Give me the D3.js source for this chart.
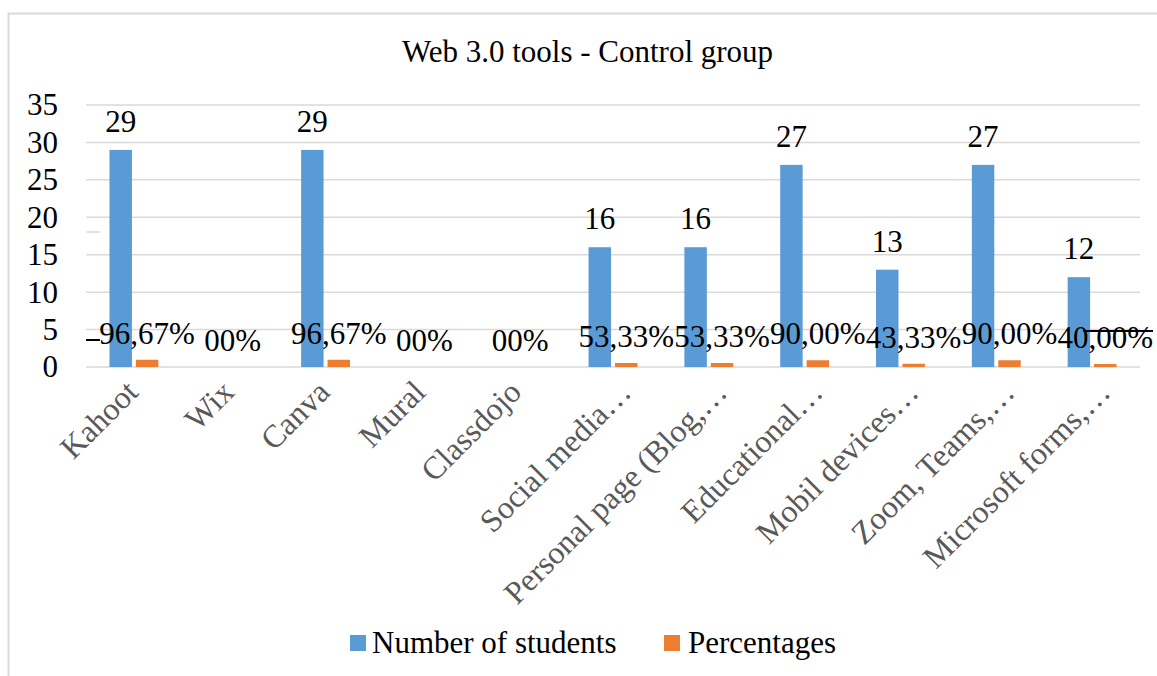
<!DOCTYPE html>
<html><head><meta charset="utf-8">
<script src="https://cdn.jsdelivr.net/npm/d3@7"></script>
<style>
html,body{margin:0;padding:0;background:#fff;}
text{font-family:"Liberation Serif","Times New Roman",serif;}
</style></head>
<body>
<svg id="chart" width="1157" height="676"></svg>
<script>
const title = "Web 3.0 tools - Control group";
const categories = ["Kahoot","Wix","Canva","Mural","Classdojo","Social media…","Personal page (Blog,…","Educational…","Mobil devices…","Zoom, Teams,…","Microsoft forms,…"];
const students = [29,0,29,0,0,16,16,27,13,27,12];
const percentages = [0.9667,0,0.9667,0,0,0.5333,0.5333,0.9,0.4333,0.9,0.4];
const percentLabels = ["96,67%","00%","96,67%","00%","00%","53,33%","53,33%","90,00%","43,33%","90,00%","40,00%"];
const seriesNames = ["Number of students","Percentages"];
const colors = ["#5b9bd5","#ed7d31"];
const yTicks = [0,5,10,15,20,25,30,35];

const svg = d3.select("#chart");
const plot = {left:86, right:1140, top:105, bottom:367};

// chart border
svg.append("rect").attr("x",8.5).attr("y",13.5).attr("width",1170).attr("height",700)
  .attr("fill","none").attr("stroke","#d9d9d9").attr("stroke-width",2);

const x0 = d3.scaleBand().domain(categories).range([plot.left, plot.right]).paddingInner(0).paddingOuter(0);
const step = x0.bandwidth();
const x1 = d3.scaleBand().domain(seriesNames).range([step*0.245, step*0.755]).paddingInner(0.15);
const y = d3.scaleLinear().domain([0,35]).range([plot.bottom, plot.top]);

// gridlines
svg.append("g").selectAll("line").data(yTicks).join("line")
  .attr("x1",plot.left).attr("x2",plot.right)
  .attr("y1",d=>y(d)).attr("y2",d=>y(d))
  .attr("stroke","#d9d9d9").attr("stroke-width",1.5);

// y axis labels
const yAxis = d3.axisLeft(y).tickValues(yTicks).tickSize(0).tickPadding(0);
const ya = svg.append("g").attr("transform",`translate(${plot.left-28},0)`).call(yAxis);
ya.select(".domain").remove();
ya.selectAll("text").attr("font-size",31).attr("fill","#000");

// title
svg.append("text").attr("x",587.5).attr("y",62).attr("text-anchor","middle")
  .attr("font-size",31).attr("fill","#000").text(title);

// bars
const groups = svg.append("g").selectAll("g").data(categories).join("g")
  .attr("transform",d=>`translate(${x0(d)},0)`);
groups.append("rect")
  .attr("x",x1(seriesNames[0])).attr("width",x1.bandwidth())
  .attr("y",(d,i)=>y(students[i])).attr("height",(d,i)=>y(0)-y(students[i]))
  .attr("fill",colors[0]);
groups.append("rect")
  .attr("x",x1(seriesNames[1])).attr("width",x1.bandwidth())
  .attr("y",(d,i)=>y(percentages[i])).attr("height",(d,i)=>y(0)-y(percentages[i]))
  .attr("fill",colors[1]);

// artefact line
svg.append("line").attr("x1",plot.left).attr("x2",plot.left+14).attr("y1",232).attr("y2",232)
  .attr("stroke","#d9d9d9").attr("stroke-width",1.5);

// value labels students
groups.filter((d,i)=>students[i]>0).append("text")
  .attr("x",x1(seriesNames[0])+x1.bandwidth()/2)
  .attr("y",d=>y(students[categories.indexOf(d)])-18)
  .attr("text-anchor","middle").attr("font-size",31).attr("fill","#000")
  .text(d=>students[categories.indexOf(d)]);

// percentage labels
groups.append("text")
  .attr("x",(d,i)=>percentages[i]>0 ? x1(seriesNames[1])+x1.bandwidth()/2 : step/2+3)
  .attr("y",(d,i)=>y(percentages[i])-16)
  .attr("text-anchor","middle").attr("font-size",31).attr("fill","#000")
  .text((d,i)=>percentLabels[i]);

svg.append("line").attr("x1",plot.left).attr("x2",plot.left+14).attr("y1",340).attr("y2",340)
  .attr("stroke","#000").attr("stroke-width",2);
svg.append("line").attr("x1",plot.right-57).attr("x2",plot.right+13).attr("y1",331).attr("y2",331)
  .attr("stroke","#000").attr("stroke-width",2);

// category labels
svg.append("g").selectAll("text").data(categories).join("text")
  .attr("transform",d=>`translate(${x0(d)+step/2+6+(d.endsWith("…")?14:0)},394) rotate(-45)`)
  .attr("text-anchor","end").attr("font-size",32).attr("fill","#595959")
  .text(d=>d);

// legend
const legend = svg.append("g");
const legendItems = [{x:350, tx:372},{x:664, tx:688}];
seriesNames.forEach((s,i)=>{
  legend.append("rect").attr("x",legendItems[i].x).attr("y",635).attr("width",16).attr("height",16).attr("fill",colors[i]);
  legend.append("text").attr("x",legendItems[i].tx).attr("y",653).attr("font-size",31).attr("fill","#000").text(s);
});
</script>
</body></html>
